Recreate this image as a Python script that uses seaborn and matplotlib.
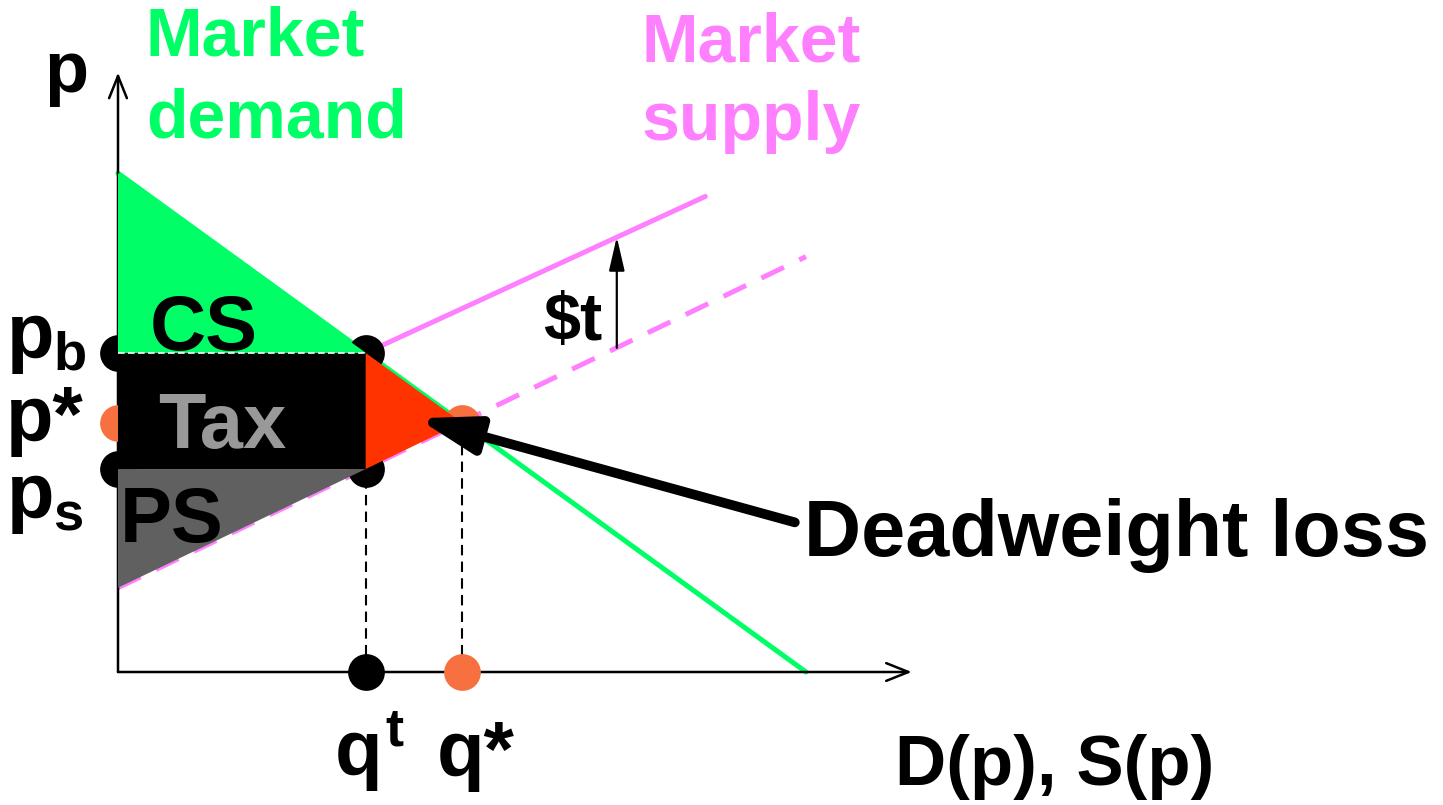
import matplotlib
matplotlib.use("Agg")
import matplotlib.pyplot as plt
from matplotlib.patches import FancyArrowPatch
import seaborn as sns

# Market curves (quantity, price)
demand_q = [0.0, 8.0]
demand_p = [5.8, 0.0]
supply_q = [0.0, 8.0]
supply_p = [0.98, 4.83]
taxed_supply_q = [2.88, 6.83]
taxed_supply_p = [3.71, 5.53]

# Equilibrium points
q_tax = 2.88
q_star = 4.0
p_buyer = 3.71
p_star = 2.9
p_seller = 2.36

# $t arrow between the two supply curves
tax_arrow_q = 5.8
tax_arrow_p = [3.77, 5.06]

# Deadweight loss pointer (tail, tip)
dwl_arrow_q = [7.87, 3.48]
dwl_arrow_p = [1.74, 2.95]

# axis extents
q_axis_end = 9.23
p_axis_end = 6.97

# Colours
green = '#00ff66'
pink = '#ff80ff'
red = '#ff3300'
orange = '#f77040'
dark_gray = '#606060'
light_gray = '#999999'

# layout of the figure in pixels
ORIGIN_X = 118
ORIGIN_Y = 672
PX = 86
W, H = 1443, 805

sns.set_theme(style='white')
plt.rcParams['font.family'] = ['Liberation Sans', 'DejaVu Sans']
plt.rcParams['mathtext.fontset'] = 'custom'
plt.rcParams['mathtext.rm'] = 'Liberation Sans:bold'
plt.rcParams['mathtext.it'] = 'Liberation Sans:bold'
plt.rcParams['mathtext.bf'] = 'Liberation Sans:bold'

fig = plt.figure(figsize=(W / 100, H / 100), dpi=100)
ax = fig.add_axes([0, 0, 1, 1])
ax.set_xlim(-ORIGIN_X / PX, (W - ORIGIN_X) / PX)
ax.set_ylim((ORIGIN_Y - H) / PX, ORIGIN_Y / PX)
ax.axis('off')

# curves
sns.lineplot(x=demand_q, y=demand_p, ax=ax, color=green, linewidth=3.6, zorder=1)
sns.lineplot(x=supply_q, y=supply_p, ax=ax, color=pink, linewidth=3.6,
             linestyle=(0, (5, 3.4)), zorder=1)
sns.lineplot(x=taxed_supply_q, y=taxed_supply_p, ax=ax, color=pink, linewidth=3.6, zorder=1)

# drop lines
for q, p in [(q_tax, p_seller), (q_star, p_star)]:
    ax.plot([q, q], [0, p], color='black', linewidth=1.5,
            linestyle=(0, (5, 3)), zorder=1)

# dots
black_q = [0, 0, q_tax, q_tax, q_tax]
black_p = [p_buyer, p_seller, p_buyer, p_seller, 0]
orange_q = [0, q_star, q_star]
orange_p = [p_star, p_star, 0]
sns.scatterplot(x=black_q, y=black_p, ax=ax, s=700, color='black', linewidth=0, zorder=2)
sns.scatterplot(x=orange_q, y=orange_p, ax=ax, s=700, color=orange, linewidth=0, zorder=2)

# surplus areas
ax.fill([0, 0, q_tax], [demand_p[0], p_buyer, p_buyer], color=green, lw=0, zorder=3)
ax.fill([0, q_tax, q_tax, 0], [p_seller, p_seller, p_buyer, p_buyer], color='black', lw=0, zorder=3)
ax.fill([0, q_tax, 0], [p_seller, p_seller, supply_p[0]], color=dark_gray, lw=0, zorder=3)
ax.fill([q_tax, q_tax, q_star], [p_buyer, p_seller, p_star], color=red, lw=0, zorder=3)
ax.plot([0, q_tax], [p_buyer, p_buyer], color='white', linewidth=1.2,
        linestyle=(0, (4, 2)), zorder=3.5)

# axes with arrows
for end in [(q_axis_end, 0), (0, p_axis_end)]:
    ax.add_patch(FancyArrowPatch((0, 0), end, arrowstyle='->,head_length=1.0,head_width=0.4',
                                 mutation_scale=16, color='black', linewidth=1.8,
                                 shrinkA=0, shrinkB=0, zorder=1.5))

# $t arrow
ax.add_patch(FancyArrowPatch((tax_arrow_q, tax_arrow_p[0]), (tax_arrow_q, tax_arrow_p[1]),
                             arrowstyle='-|>,head_length=1.3,head_width=0.3',
                             mutation_scale=16, color='black', linewidth=1.6,
                             shrinkA=0, shrinkB=0, zorder=4))

# deadweight loss pointer
ax.add_patch(FancyArrowPatch((dwl_arrow_q[0], dwl_arrow_p[0]), (dwl_arrow_q[1], dwl_arrow_p[1]),
                             arrowstyle='-|>,head_length=0.9,head_width=0.28',
                             mutation_scale=40, color='black', linewidth=7,
                             shrinkA=0, shrinkB=0, zorder=4))


def px(x, y):
    return (x - ORIGIN_X) / PX, (ORIGIN_Y - y) / PX


def label(x, y, s, size, color='black', ha='left', zorder=5):
    ax.text(*px(x, y), s, fontsize=size, color=color, fontweight='bold',
            ha=ha, va='baseline', zorder=zorder)


# curve names
label(146, 55, 'Market', 49, color=green)
label(146, 137, 'demand', 49, color=green)
label(642, 62, 'Market', 49, color=pink)
label(642, 140, 'supply', 49, color=pink)

# axis labels
label(44, 92, 'p', 52)
label(6, 358, r'$p_b$', 56)
label(6, 441, 'p*', 56)
label(6, 518, r'$p_s$', 56)
label(334, 776, r'$q^t$', 56)
label(437, 776, 'q*', 56)
label(895, 785, 'D(p), S(p)', 51)

# areas
label(150, 350, 'CS', 56)
label(158, 448, 'Tax', 56, color=light_gray)
label(120, 542, 'PS', 56)
label(543, 340, '$t', 48)
label(804, 556, 'Deadweight loss', 57)

fig.savefig('out.png', dpi=100)
